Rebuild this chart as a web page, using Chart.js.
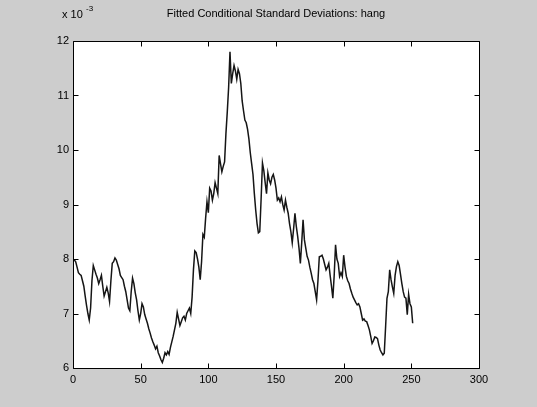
<!DOCTYPE html>
<html>
<head>
<meta charset="utf-8">
<script src="https://cdn.jsdelivr.net/npm/chart.js@4/dist/chart.umd.min.js"></script>
<style>
  html, body { margin: 0; padding: 0; background: #cdcdcd; }
  #wrap { width: 537px; height: 407px; }
</style>
</head>
<body>
<div id="wrap"><canvas id="c" width="537" height="407"></canvas></div>
<script>
// Fitted conditional standard deviations (units of 1e-3), one value per observation
const sigma = [
  8.00, 7.98, 7.95, 7.85, 7.75, 7.72, 7.70, 7.60, 7.50, 7.32,
  7.15, 7.00, 6.88, 7.10, 7.60, 7.88, 7.80, 7.72, 7.65, 7.55,
  7.62, 7.70, 7.50, 7.32, 7.40, 7.48, 7.38, 7.22, 7.60, 7.92,
  7.95, 8.02, 7.98, 7.90, 7.82, 7.70, 7.66, 7.62, 7.50, 7.40,
  7.25, 7.10, 7.05, 7.40, 7.65, 7.55, 7.38, 7.25, 7.05, 6.88,
  7.00, 7.18, 7.12, 6.98, 6.90, 6.82, 6.72, 6.64, 6.55, 6.48,
  6.42, 6.35, 6.40, 6.28, 6.22, 6.15, 6.10, 6.18, 6.28, 6.24,
  6.30, 6.25, 6.38, 6.48, 6.58, 6.70, 6.82, 7.02, 6.90, 6.78,
  6.85, 6.92, 6.95, 6.88, 7.00, 7.05, 7.10, 7.00, 7.30, 7.80,
  8.15, 8.12, 8.00, 7.85, 7.62, 7.95, 8.45, 8.40, 8.75, 9.05,
  8.85, 9.30, 9.25, 9.08, 9.20, 9.40, 9.30, 9.20, 9.90, 9.75,
  9.60, 9.70, 9.78, 10.30, 10.70, 11.15, 11.80, 11.22, 11.40, 11.55,
  11.45, 11.30, 11.48, 11.40, 11.22, 10.90, 10.72, 10.55, 10.50, 10.38,
  10.20, 9.95, 9.75, 9.55, 9.20, 8.90, 8.65, 8.48, 8.50, 9.10,
  9.76, 9.62, 9.40, 9.20, 9.58, 9.45, 9.38, 9.50, 9.55, 9.45,
  9.30, 9.08, 9.12, 9.05, 9.14, 9.00, 8.90, 9.08, 8.95, 8.84,
  8.65, 8.50, 8.30, 8.55, 8.84, 8.60, 8.42, 8.20, 7.92, 8.30,
  8.72, 8.35, 8.20, 8.05, 7.98, 7.85, 7.74, 7.62, 7.55, 7.40,
  7.25, 7.60, 8.04, 8.05, 8.07, 8.00, 7.90, 7.80, 7.85, 7.92,
  7.70, 7.50, 7.28, 7.70, 8.26, 8.00, 7.92, 7.68, 7.75, 7.68,
  8.07, 7.85, 7.68, 7.60, 7.55, 7.45, 7.37, 7.30, 7.25, 7.20,
  7.16, 7.18, 7.12, 7.00, 6.88, 6.90, 6.86, 6.85, 6.78, 6.70,
  6.58, 6.45, 6.50, 6.57, 6.56, 6.54, 6.42, 6.33, 6.28, 6.24,
  6.27, 6.76, 7.28, 7.40, 7.80, 7.62, 7.49, 7.37, 7.70, 7.86,
  7.95, 7.88, 7.72, 7.55, 7.40, 7.30, 7.28, 6.98, 7.35, 7.18,
  7.12, 6.82
];
const xTicks = [0, 50, 100, 150, 200, 250, 300];
const yTicks = [6, 7, 8, 9, 10, 11, 12];
const titleText = 'Fitted Conditional Standard Deviations: hang';
const FONT = '"Liberation Sans", Arial, Helvetica, sans-serif';

// Figure background, white axes box, inward ticks on all four sides, title and exponent
const matlabFrame = {
  id: 'matlabFrame',
  beforeDraw(chart) {
    const { ctx, chartArea: a } = chart;
    ctx.save();
    ctx.fillStyle = '#cdcdcd';
    ctx.fillRect(0, 0, chart.width, chart.height);
    ctx.fillStyle = '#ffffff';
    ctx.fillRect(a.left, a.top, a.right - a.left, a.bottom - a.top);
    ctx.restore();
  },
  afterDraw(chart) {
    const { ctx, chartArea: a, scales } = chart;
    const L = Math.round(a.left) + 0.5, R = Math.round(a.right) + 0.5;
    const T = Math.round(a.top) + 0.5, B = Math.round(a.bottom) + 0.5;
    ctx.save();
    ctx.strokeStyle = '#000';
    ctx.lineWidth = 1;
    ctx.beginPath();
    ctx.rect(L, T, R - L, B - T);
    const tl = 5;
    xTicks.forEach(v => {
      const x = Math.round(scales.x.getPixelForValue(v)) + 0.5;
      ctx.moveTo(x, B); ctx.lineTo(x, B - tl);
      ctx.moveTo(x, T); ctx.lineTo(x, T + tl);
    });
    yTicks.forEach(v => {
      const y = Math.round(scales.y.getPixelForValue(v)) + 0.5;
      ctx.moveTo(L, y); ctx.lineTo(L + tl, y);
      ctx.moveTo(R, y); ctx.lineTo(R - tl, y);
    });
    ctx.stroke();

    ctx.fillStyle = '#000';
    ctx.font = '11px ' + FONT;
    ctx.textAlign = 'center';
    ctx.textBaseline = 'alphabetic';
    ctx.fillText(titleText, (a.left + a.right) / 2, 17);

    ctx.textAlign = 'left';
    ctx.fillText('x 10', 62, 18);
    ctx.font = '8px ' + FONT;
    ctx.fillText('-3', 86, 11);
    ctx.restore();
  }
};

new Chart(document.getElementById('c'), {
  type: 'line',
  data: {
    datasets: [{
      data: sigma.map((v, i) => ({ x: i, y: v })),
      borderColor: '#151515',
      borderWidth: 1.5,
      pointRadius: 0,
      tension: 0,
      fill: false
    }]
  },
  options: {
    responsive: false,
    animation: false,
    layout: { padding: { left: 0, top: 41, right: 58, bottom: 0 } },
    plugins: { legend: { display: false }, tooltip: { enabled: false }, title: { display: false } },
    scales: {
      x: {
        type: 'linear', min: 0, max: 300,
        afterBuildTicks: s => { s.ticks = xTicks.map(v => ({ value: v })); },
        afterFit: s => { s.height = 39; },
        grid: { display: false, drawTicks: false },
        border: { display: false },
        ticks: { color: '#000', padding: 5, maxRotation: 0, font: { family: FONT, size: 11 } }
      },
      y: {
        type: 'linear', min: 6, max: 12,
        afterBuildTicks: s => { s.ticks = yTicks.map(v => ({ value: v })); },
        afterFit: s => { s.width = 73; },
        grid: { display: false, drawTicks: false },
        border: { display: false },
        ticks: { color: '#000', padding: 4, font: { family: FONT, size: 11 } }
      }
    }
  },
  plugins: [matlabFrame]
});
</script>
</body>
</html>
